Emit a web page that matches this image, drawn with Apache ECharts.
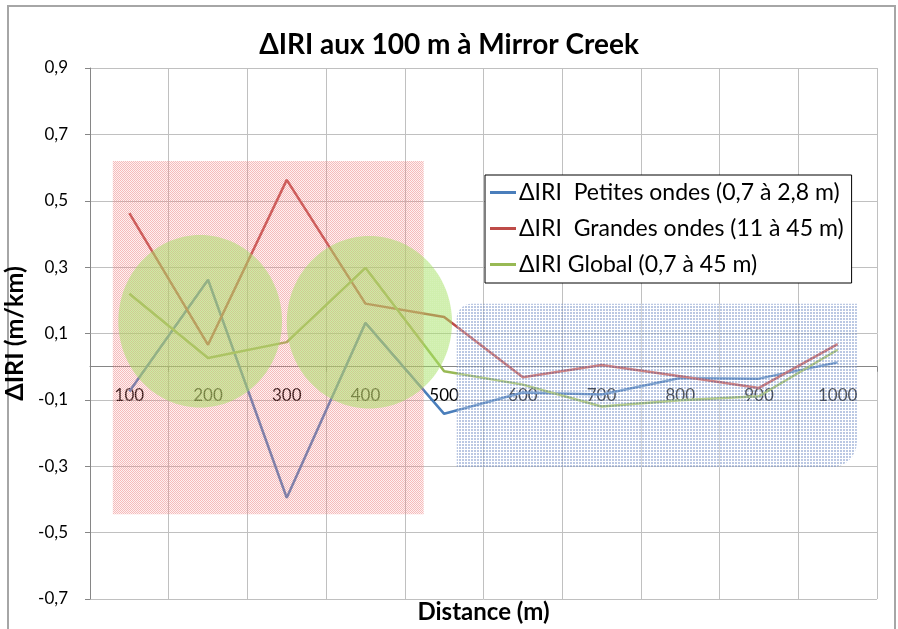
<!DOCTYPE html>
<html>
<head>
<meta charset="utf-8">
<script src="https://cdn.jsdelivr.net/npm/echarts@6/dist/echarts.min.js"></script>
<style>
html,body{margin:0;padding:0;background:#fff;}
#chart{width:898px;height:629px;}
</style>
</head>
<body>
<div id="chart"></div>
<script>
// ---- Data ----
const categories = ['100','200','300','400','500','600','700','800','900','1000'];
const petitesOndes = [-0.075, 0.262, -0.395, 0.132, -0.142, -0.078, -0.084, -0.034, -0.036, 0.013];
const grandesOndes = [0.463, 0.066, 0.563, 0.19, 0.15, -0.032, 0.005, -0.029, -0.064, 0.068];
const globalIRI   = [0.22, 0.026, 0.074, 0.298, -0.014, -0.054, -0.12, -0.101, -0.089, 0.051];
const yTicks = [-0.7, -0.5, -0.3, -0.1, 0.1, 0.3, 0.5, 0.7, 0.9];
const seriesNames = ['\u0394IRI  Petites ondes (0,7 \u00e0 2,8 m)', '\u0394IRI  Grandes ondes (11 \u00e0 45 m)', '\u0394IRI Global (0,7 \u00e0 45 m)'];
// Highlight shapes in data units (x: category slots 0..10, y: value axis)
const shadeRects = [
  // [x0, y0, x1, y1, kind]
  [0.29, 0.62, 4.24, -0.445, 'red'],
  [4.66, 0.19, 9.745, -0.304, 'blue']
];
const shadeEllipses = [
  // [cx, cy, rx, ry]
  [1.40, 0.137, 1.04, 0.26],
  [3.55, 0.134, 1.05, 0.26]
];

function makePattern(kind){
  const c = document.createElement('canvas');
  const ctx = c.getContext('2d');
  if (kind === 'red') {
    c.width = 2; c.height = 2;
    ctx.fillStyle = 'rgba(245,170,170,0.16)'; ctx.fillRect(0,0,2,2);
    ctx.clearRect(0,0,1,1); ctx.clearRect(1,1,1,1);
    ctx.fillStyle = 'rgba(238,120,120,0.5)'; ctx.fillRect(0,0,1,1); ctx.fillRect(1,1,1,1);
  } else if (kind === 'blue') {
    c.width = 3; c.height = 3;
    ctx.fillStyle = 'rgba(255,255,255,0.35)'; ctx.fillRect(0,0,3,3);
    ctx.clearRect(0,0,2,2);
    ctx.fillStyle = 'rgba(120,145,200,0.5)'; ctx.fillRect(0,0,2,2);
  } else {
    c.width = 2; c.height = 2;
    ctx.fillStyle = 'rgba(165,225,100,0.52)'; ctx.fillRect(0,0,2,2);
    ctx.clearRect(0,0,1,1);
    ctx.fillStyle = 'rgba(165,225,100,0.46)'; ctx.fillRect(0,0,1,1);
  }
  return {image: c, repeat: 'repeat'};
}
const redPattern = makePattern('red');
const bluePattern = makePattern('blue');
const greenPattern = makePattern('green');

const FONT = 'Lato, "Open Sans", sans-serif';
const fmt = v => (Math.round(v*10)/10).toFixed(1).replace('.', ',');

const chart = echarts.init(document.getElementById('chart'), null, {renderer: 'canvas'});

const shapeData = shadeRects.map((r,i)=>({value:[r[0],r[1],r[2],r[3]], kind:r[4]}))
  .concat(shadeEllipses.map(e=>({value:[e[0],e[1],e[2],e[3]], kind:'ellipse'})));

const option = {
  backgroundColor: '#fff',
  animation: false,
  textStyle: {fontFamily: FONT},
  title: {
    text: '\u0394IRI aux 100 m \u00e0 Mirror Creek',
    left: 'center', top: 26,
    textStyle: {fontFamily: FONT, fontSize: 28, fontWeight: 'bold', color: '#000'}
  },
  graphic: [{
    type: 'rect', silent: true, z: -1,
    shape: {x: 8, y: 6, width: 887, height: 640},
    style: {fill: 'none', stroke: '#a6a6a6', lineWidth: 2}
  }],
  legend: {
    orient: 'vertical',
    left: 485, top: 175,
    width: 382,
    backgroundColor: '#fff',
    borderColor: '#000', borderWidth: 1,
    padding: [6, 8, 7, 5],
    itemGap: 13,
    itemWidth: 26, itemHeight: 3,
    icon: 'rect',
    textStyle: {fontFamily: FONT, fontSize: 23, color: '#000', padding: [0,0,0,-2]},
    data: seriesNames,
    z: 10
  },
  grid: {left: 90, top: 68, right: 21, bottom: 30, containLabel: false, outerBoundsMode: 'none'},
  xAxis: [{
    type: 'category',
    data: categories,
    boundaryGap: true,
    position: 'bottom',
    offset: 0,
    axisLine: {show: true, onZero: false, lineStyle: {color: '#868686', width: 1}},
    axisTick: {show: true, alignWithLabel: false, length: 5, lineStyle: {color: '#868686'}},
    axisLabel: {fontFamily: FONT, fontSize: 17, color: '#000', margin: 20},
    splitLine: {show: true, lineStyle: {color: '#c0c0c0', width: 1}},
    name: 'Distance (m)',
    nameLocation: 'middle',
    nameGap: 234,
    nameTextStyle: {fontFamily: FONT, fontSize: 24, fontWeight: 'bold', color: '#000'}
  }, {
    type: 'value', min: 0, max: 10, show: false
  }],
  yAxis: {
    type: 'value',
    min: -0.7, max: 0.9,
    axisLine: {show: true, lineStyle: {color: '#868686', width: 1}},
    axisTick: {show: true, length: 5, inside: false, customValues: yTicks, lineStyle: {color: '#868686'}},
    axisLabel: {fontFamily: FONT, fontSize: 17, color: '#000', margin: 22, customValues: yTicks, formatter: fmt},
    splitLine: {show: true, lineStyle: {color: '#c0c0c0', width: 1}},
    name: '\u0394IRI (m/km)',
    nameLocation: 'middle',
    nameGap: 47,
    nameTextStyle: {fontFamily: FONT, fontSize: 25, fontWeight: 'bold', color: '#000'}
  },
  series: [
    {name: seriesNames[0], type: 'line', data: petitesOndes, symbol: 'none', z: 2,
     lineStyle: {color: '#4a7ebb', width: 2.5}, itemStyle: {color: '#4a7ebb'}},
    {name: seriesNames[1], type: 'line', data: grandesOndes, symbol: 'none', z: 2,
     lineStyle: {color: '#be4b48', width: 2.5}, itemStyle: {color: '#be4b48'}},
    {name: seriesNames[2], type: 'line', data: globalIRI, symbol: 'none', z: 2,
     lineStyle: {color: '#98b954', width: 2.5}, itemStyle: {color: '#98b954'}},
    {
      type: 'custom', xAxisIndex: 1, yAxisIndex: 0, z: 3, silent: true,
      data: shapeData,
      renderItem: function(params, api){
        const d = shapeData[params.dataIndex];
        const v = d.value;
        if (d.kind === 'ellipse') {
          const c = api.coord([v[0], v[1]]);
          const px = api.coord([v[0] + v[2], v[1] - v[3]]);
          return {type: 'ellipse', shape: {cx: c[0], cy: c[1], rx: px[0]-c[0], ry: px[1]-c[1]},
                  style: {fill: greenPattern}};
        }
        const p0 = api.coord([v[0], v[1]]);
        const p1 = api.coord([v[2], v[3]]);
        const isBlue = d.kind === 'blue';
        return {type: 'rect',
          shape: {x: p0[0], y: p0[1], width: p1[0]-p0[0], height: p1[1]-p0[1], r: isBlue ? [15,0,26,0] : 0},
          style: {fill: isBlue ? bluePattern : redPattern}};
      }
    }
  ]
};
chart.setOption(option);
// Move the category axis up so it crosses the value axis at 0 (labels follow it)
const yZero = chart.convertToPixel({yAxisIndex: 0}, 0);
const yBottom = chart.convertToPixel({yAxisIndex: 0}, yTicks[0]);
chart.setOption({xAxis: [{offset: -(yBottom - yZero)}, {}]});
</script>
</body>
</html>
